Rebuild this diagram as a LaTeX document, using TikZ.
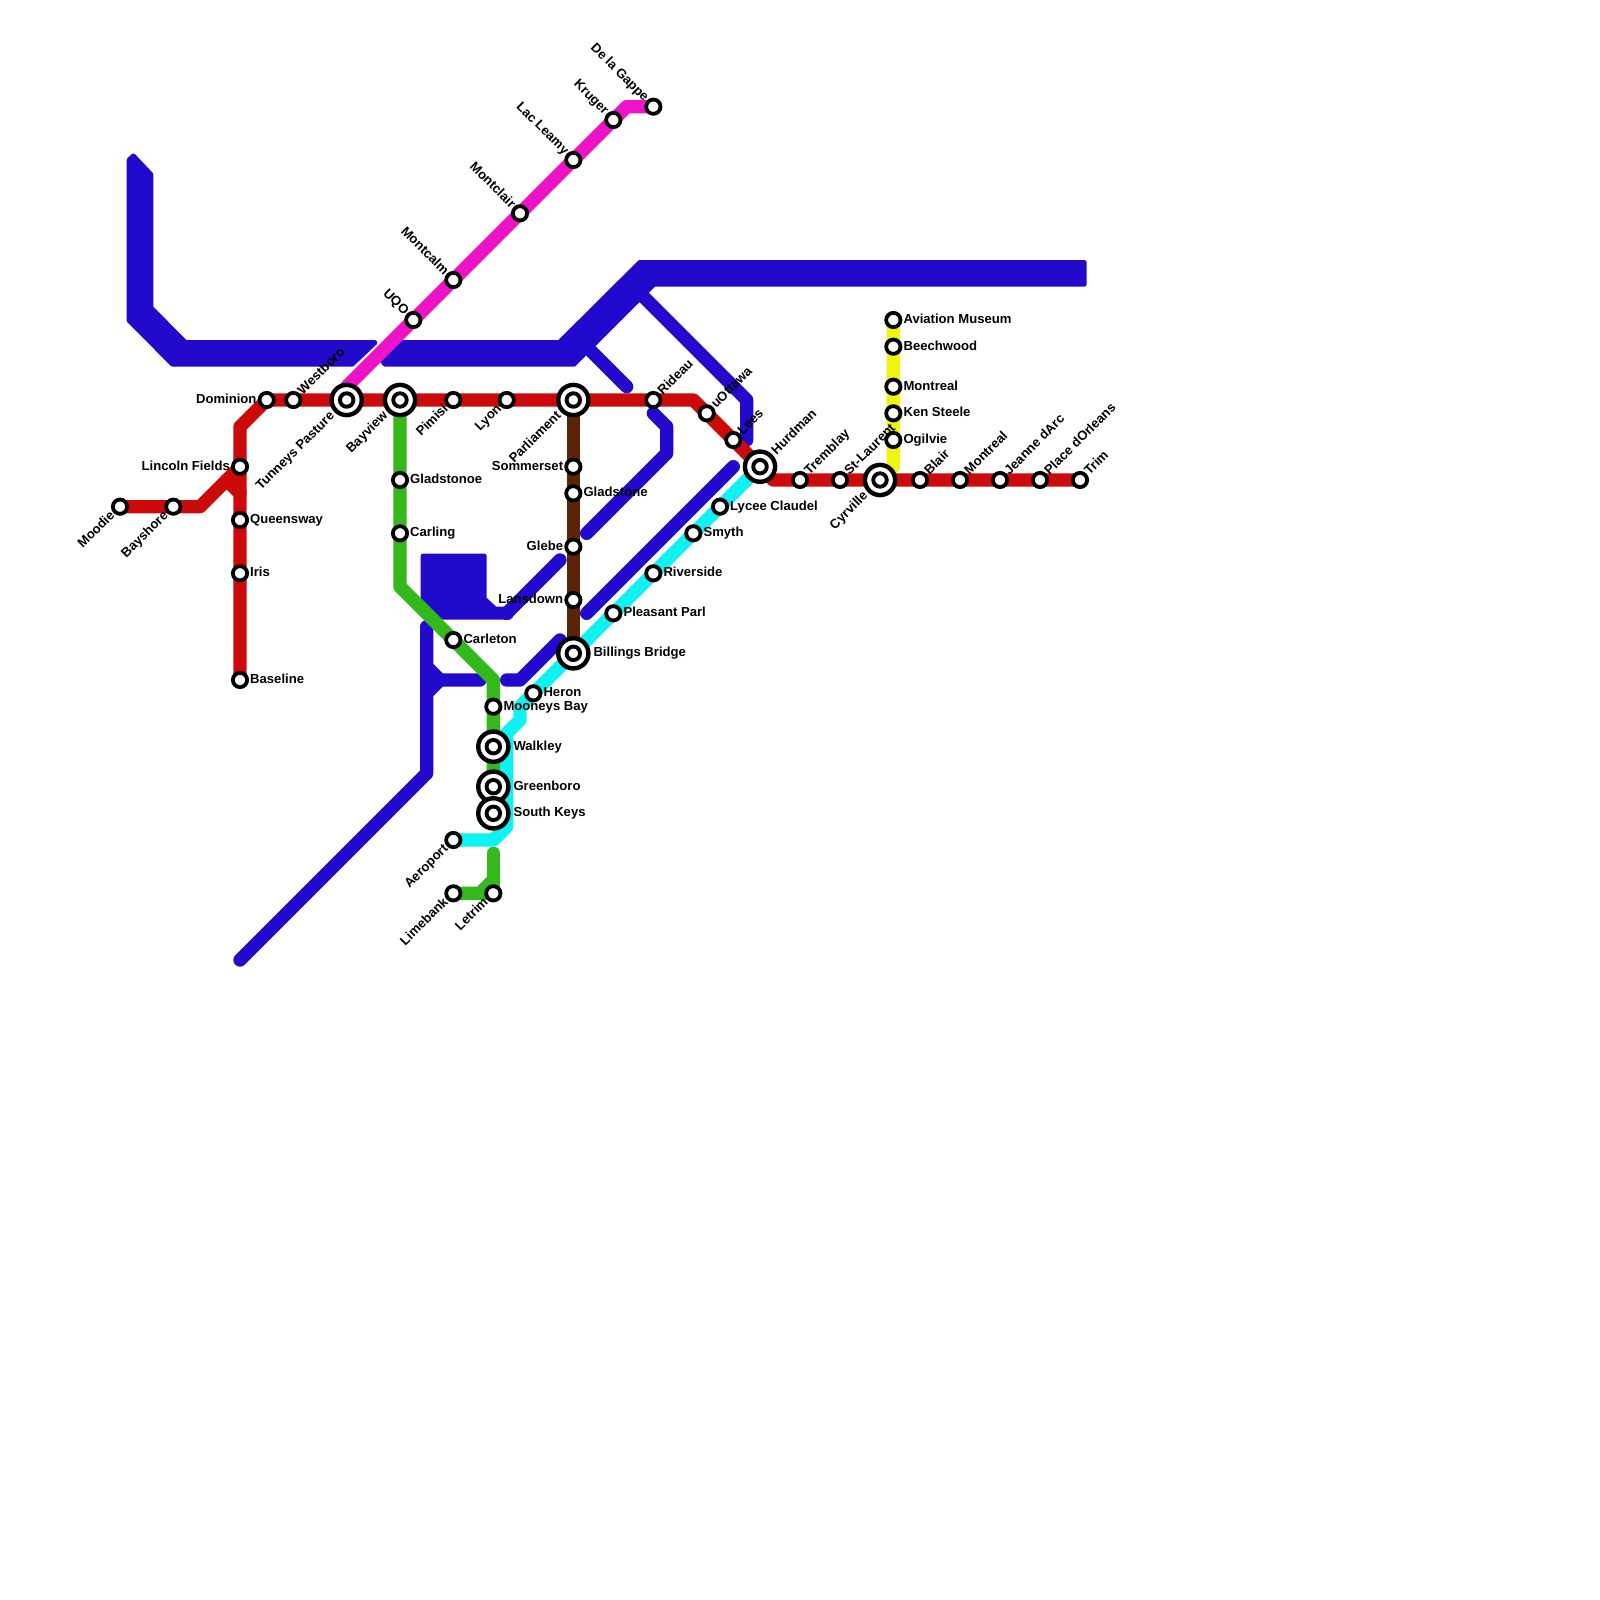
\documentclass[tikz,border=0pt]{standalone}
\usepackage{fontspec}
\setmainfont{Liberation Sans}
\pgfdeclarelayer{bg}
\pgfdeclarelayer{paper}
\pgfsetlayers{paper,bg,main}
\definecolor{cred}{HTML}{CC0A0A}
\definecolor{cblue}{HTML}{210ACC}
\definecolor{cgreen}{HTML}{35B81C}
\definecolor{ccyan}{HTML}{10F2F2}
\definecolor{cbrown}{HTML}{5C2406}
\definecolor{cyel}{HTML}{EFF50F}
\definecolor{cmag}{HTML}{F012C8}
\tikzset{
  x=1pt,y=-1pt,
  stn/.style={circle,draw=black,fill=white,line width=3.8pt,minimum size=14.3pt,inner sep=0pt},
  hubo/.style={circle,draw=black,fill=white,line width=4.4pt,minimum size=30.2pt,inner sep=0pt},
  hubi/.style={circle,draw=black,fill=white,line width=3.9pt,minimum size=13.5pt,inner sep=0pt},
  lin/.style={line width=13.33pt,line cap=round,line join=round},
  lred/.style={lin,draw=cred},
  lblue/.style={lin,draw=cblue},
  lgreen/.style={lin,draw=cgreen},
  lcyan/.style={lin,draw=ccyan},
  lbrown/.style={lin,draw=cbrown},
  lyel/.style={lin,draw=cyel},
  lmag/.style={lin,draw=cmag},
  blk/.style={fill=cblue,draw=cblue,line width=5pt,line join=round},
  txt/.style={font=\fontsize{13.1}{13.1}\selectfont\bfseries,inner sep=0pt,text height=9.5pt,text depth=2.5pt,text=black},
  tE/.style={txt,anchor=west,xshift=10pt},
  tH/.style={txt,anchor=west,xshift=20pt},
  tW/.style={txt,anchor=east,xshift=-10pt},
  tNE/.style={txt,anchor=west,xshift=7pt,yshift=7pt,rotate=45},
  tHNE/.style={txt,anchor=west,xshift=14pt,yshift=14pt,rotate=45},
  tNW/.style={txt,anchor=east,xshift=-7pt,yshift=7pt,rotate=-45},
  tSW/.style={txt,anchor=east,xshift=-7pt,yshift=-7pt,rotate=45},
  tHSW/.style={txt,anchor=east,xshift=-14pt,yshift=-14pt,rotate=45},
}
\newcommand{\St}[3]{\node[stn] (#1) at (#2,#3) {};}
\newcommand{\Hub}[3]{\node[hubo] (#1) at (#2,#3) {};\node[hubi] (#1in) at (#1) {};}
\newcommand{\Tx}[3]{\node[#1] (t#2) at (#2) {#3};}
\begin{document}
\begin{tikzpicture}
\begin{pgfonlayer}{paper}
\fill[white] (0,0) rectangle (1600,1600);
\end{pgfonlayer}
\useasboundingbox (0,0) rectangle (1600,1600);
% stations: red
\St{moodie}{120}{506.67}\St{bayshore}{173.33}{506.67}
\St{dominion}{266.67}{400}\St{westboro}{293.33}{400}
\Hub{tunneys}{346.67}{400}\Hub{bayview}{400}{400}
\St{pimisi}{453.33}{400}\St{lyon}{506.67}{400}
\Hub{parliament}{573.33}{400}\St{rideau}{653.33}{400}
\St{uottawa}{706.67}{413.33}\St{lees}{733.33}{440}
\Hub{hurdman}{760}{466.67}
\St{tremblay}{800}{480}\St{stlaurent}{840}{480}\Hub{cyrville}{880}{480}
\St{blair}{920}{480}\St{montrealb}{960}{480}\St{jeanne}{1000}{480}
\St{orleans}{1040}{480}\St{trim}{1080}{480}
\St{lincoln}{240}{466.67}\St{queensway}{240}{520}\St{iris}{240}{573.33}\St{baseline}{240}{680}
% yellow
\St{aviation}{893.33}{320}\St{beechwood}{893.33}{346.67}\St{montreala}{893.33}{386.67}
\St{kensteele}{893.33}{413.33}\St{ogilvie}{893.33}{440}
% magenta
\St{uqo}{413.33}{320}\St{montcalm}{453.33}{280}\St{montclair}{520}{213.33}
\St{leamy}{573.33}{160}\St{kruger}{613.33}{120}\St{gappe}{653.33}{106.67}
% brown
\St{sommerset}{573.33}{466.67}\St{gladstone}{573.33}{493.33}\St{glebe}{573.33}{546.67}
\St{lansdown}{573.33}{600}\Hub{billings}{573.33}{653.33}
% green
\St{gladstonoe}{400}{480}\St{carling}{400}{533.33}\St{carleton}{453.33}{640}
\St{mooneys}{493.33}{706.67}\Hub{walkley}{493.33}{746.67}\Hub{greenboro}{493.33}{786.67}
\Hub{southkeys}{493.33}{813.33}
\St{letrim}{493.33}{893.33}\St{limebank}{453.33}{893.33}
% cyan
\St{aeroport}{453.33}{840}\St{heron}{533.33}{693.33}\St{pleasant}{613.33}{613.33}
\St{riverside}{653.33}{573.33}\St{smyth}{693.33}{533.33}\St{lycee}{720}{506.67}
% bends and free ends
\coordinate (rA) at (200,506.67);
\coordinate (rB) at (240,426.67);
\coordinate (rC) at (226.67,480);
\coordinate (rD) at (240,493.33);
\coordinate (rE) at (693.33,400);
\coordinate (rF) at (773.33,480);
\coordinate (yA) at (893.33,466.67);
\coordinate (mA) at (346.67,386.67);
\coordinate (mB) at (626.67,106.67);
\coordinate (gA) at (400,586.67);
\coordinate (gB) at (493.33,680);
\coordinate (gC) at (493.33,853.33);
\coordinate (gD) at (493.33,880);
\coordinate (gE) at (480,893.33);
\coordinate (cA) at (520,706.67);
\coordinate (cB) at (520,720);
\coordinate (cC) at (506.67,733.33);
\coordinate (cD) at (506.67,826.67);
\coordinate (cE) at (493.33,840);
\coordinate (bA) at (640,293.33);
\coordinate (bB) at (746.67,400);
\coordinate (bC) at (746.67,440);
\coordinate (bD) at (586.67,346.67);
\coordinate (bE) at (626.67,386.67);
\coordinate (bF) at (653.33,413.33);
\coordinate (bG) at (666.67,426.67);
\coordinate (bH) at (666.67,453.33);
\coordinate (bI) at (586.67,533.33);
\coordinate (bJ) at (586.67,613.33);
\coordinate (bK) at (733.33,466.67);
\coordinate (bL) at (506.67,613.33);
\coordinate (bM) at (560,560);
\coordinate (bN) at (426.67,626.67);
\coordinate (bO) at (426.67,773.33);
\coordinate (bP) at (240,960);
\coordinate (bQ) at (426.67,666.67);
\coordinate (bR) at (440,680);
\coordinate (bS) at (480,680);
\coordinate (bT) at (426.67,693.33);
\coordinate (bU) at (506.67,680);
\coordinate (bV) at (520,680);
\coordinate (bW) at (560,640);
\begin{pgfonlayer}{bg}
% yellow line
\draw[lyel] (aviation.center) -- (yA) -- (cyrville.center);
% blue bands
\filldraw[blk] (129.2,160) -- (133.33,156) -- (150.8,174.5) -- (150.8,307.7) -- (185.3,342.5) -- (375,342.5) -- (352,364.2) -- (172.7,364.2) -- (129.2,320.6) -- cycle;
\filldraw[blk] (382,360) -- (399,342.5) -- (559.4,342.5) -- (639.9,262.5) -- (1084.2,262.5) -- (1084.2,284.2) -- (654,284.2) -- (574,364.2) -- (385,364.2) -- cycle;
\filldraw[blk] (423.2,556) -- (484.2,556) -- (484.2,599) -- (495,609) -- (512,609) -- (510,617) -- (440,617) -- (423.2,600) -- cycle;
\draw[lblue] (bA) -- (bB) -- (bC);
\draw[lblue] (bD) -- (bE);
\draw[lblue] (bF) -- (bG) -- (bH) -- (bI);
\draw[lblue] (bJ) -- (bK);
\draw[lblue] (bL) -- (bM);
\draw[lblue] (bN) -- (bO) -- (bP);
\draw[lblue] (bQ) -- (bR) -- (bS);
\draw[lblue] (bT) -- (bR);
\draw[lblue] (bU) -- (bV) -- (bW);
% green
\draw[lgreen] (bayview.center) -- (gA) -- (gB) -- (southkeys.center);
\draw[lgreen] (gC) -- (letrim.center);
\draw[lgreen] (gD) -- (gE) -- (limebank.center);
\draw[lgreen] (gE) -- (letrim.center);
% cyan
\draw[lcyan] (hurdman.center) -- (cA) -- (cB) -- (cC) -- (cD) -- (cE) -- (aeroport.center);
% brown
\draw[lbrown] (parliament.center) -- (billings.center);
% red
\draw[lred] (moodie.center) -- (rA) -- (lincoln.center);
\draw[lred] (dominion.center) -- (rB) -- (rD);
\draw[lred] (rC) -- (rD) -- (baseline.center);
\draw[lred] (dominion.center) -- (rE) -- (hurdman.center) -- (rF) -- (trim.center);
% magenta
\draw[lmag] (mA) -- (mB) -- (gappe.center);
\end{pgfonlayer}
% labels
\Tx{tSW}{moodie}{Moodie}\Tx{tSW}{bayshore}{Bayshore}\Tx{tW}{dominion}{Dominion}
\Tx{tNE}{westboro}{Westboro}\Tx{tHSW}{tunneys}{Tunneys Pasture}\Tx{tHSW}{bayview}{Bayview}
\Tx{tSW}{pimisi}{Pimisi}\Tx{tSW}{lyon}{Lyon}\Tx{tHSW}{parliament}{Parliament}
\Tx{tNE}{rideau}{Rideau}\Tx{tNE}{uottawa}{uOttawa}\Tx{tNE}{lees}{Lees}\Tx{tHNE}{hurdman}{Hurdman}
\Tx{tNE}{tremblay}{Tremblay}\Tx{tNE}{stlaurent}{St-Laurent}\Tx{tHSW}{cyrville}{Cyrville}
\Tx{tNE}{blair}{Blair}\Tx{tNE}{montrealb}{Montreal}\Tx{tNE}{jeanne}{Jeanne dArc}
\Tx{tNE}{orleans}{Place dOrleans}\Tx{tNE}{trim}{Trim}
\Tx{tW}{lincoln}{Lincoln Fields}\Tx{tE}{queensway}{Queensway}\Tx{tE}{iris}{Iris}\Tx{tE}{baseline}{Baseline}
\Tx{tE}{aviation}{Aviation Museum}\Tx{tE}{beechwood}{Beechwood}\Tx{tE}{montreala}{Montreal}
\Tx{tE}{kensteele}{Ken Steele}\Tx{tE}{ogilvie}{Ogilvie}
\Tx{tNW}{uqo}{UQO}\Tx{tNW}{montcalm}{Montcalm}\Tx{tNW}{montclair}{Montclair}
\Tx{tNW}{leamy}{Lac Leamy}\Tx{tNW}{kruger}{Kruger}\Tx{tNW}{gappe}{De la Gappe}
\Tx{tW}{sommerset}{Sommerset}\Tx{tE}{gladstone}{Gladstone}\Tx{tW}{glebe}{Glebe}
\Tx{tW}{lansdown}{Lansdown}\Tx{tH}{billings}{Billings Bridge}
\Tx{tE}{gladstonoe}{Gladstonoe}\Tx{tE}{carling}{Carling}\Tx{tE}{carleton}{Carleton}
\Tx{tE}{mooneys}{Mooneys Bay}\Tx{tH}{walkley}{Walkley}\Tx{tH}{greenboro}{Greenboro}
\Tx{tH}{southkeys}{South Keys}\Tx{tSW}{letrim}{Letrim}\Tx{tSW}{limebank}{Limebank}
\Tx{tSW}{aeroport}{Aeroport}\Tx{tE}{heron}{Heron}\Tx{tE}{pleasant}{Pleasant Parl}
\Tx{tE}{riverside}{Riverside}\Tx{tE}{smyth}{Smyth}\Tx{tE}{lycee}{Lycee Claudel}
\end{tikzpicture}
\end{document}
